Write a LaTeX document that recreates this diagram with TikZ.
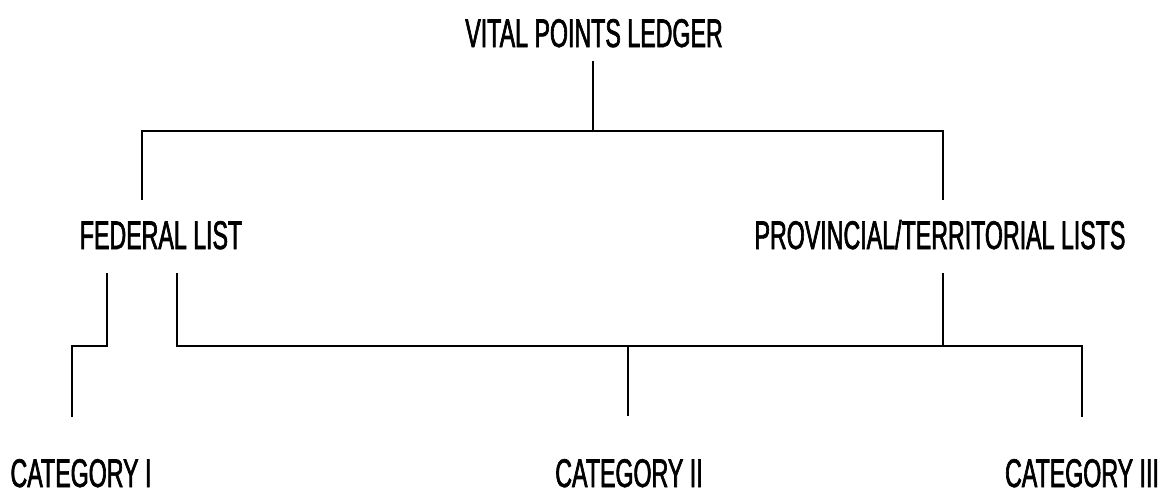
\documentclass[tikz,border=0pt]{standalone}
\usepackage{fontspec}
\newfontfamily\cond[FakeStretch=0.58,FakeBold=1.6]{Liberation Sans}
\begin{document}
\begin{tikzpicture}[x=1pt,y=-1pt,
  lbl/.style={font=\cond\fontsize{40}{40}\selectfont, inner sep=0pt, text height=29pt, text depth=0pt, anchor=base},
  conn/.style={line width=2.6pt}]
\useasboundingbox (0,0) rectangle (1172,501);
\node[lbl] (root) at (594,47) {VITAL POINTS LEDGER};
\node[lbl] (fed) at (161,249) {FEDERAL LIST};
\node[lbl] (prov) at (940,249) {PROVINCIAL/TERRITORIAL LISTS};
\node[lbl] (c1) at (81,487) {CATEGORY I};
\node[lbl] (c2) at (629,487) {CATEGORY II};
\node[lbl] (c3) at (1082,487) {CATEGORY III};
% junction coordinates
\coordinate (top) at (593,131);
\coordinate (fedUp) at (142,200);
\coordinate (provUp) at (943,200);
\coordinate (fedL) at (107,273);
\coordinate (fedR) at (177,273);
\coordinate (provD) at (943,273);
\coordinate (c1Up) at (72,417);
\coordinate (c2Up) at (628,416);
\coordinate (c3Up) at (1082,417);
\draw[conn] ([yshift=-14pt]top |- root.south) -- (top);
\draw[conn] (fedUp) |- (top) -| (provUp);
\draw[conn] (fedL) |- (c1Up |- 0,346) -- (c1Up);
\draw[conn] (fedR) |- (c3Up |- 0,346) -- (c3Up);
\draw[conn] (provD) -- (provD |- 0,346);
\draw[conn] (c2Up |- 0,346) -- (c2Up);
\end{tikzpicture}
\end{document}
